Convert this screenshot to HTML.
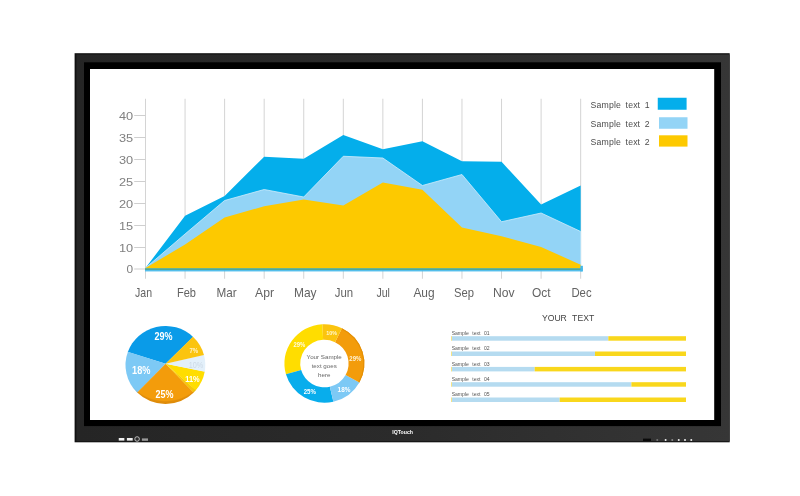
<!DOCTYPE html><html><head><meta charset="utf-8"><title>Display</title>
<style>html,body{margin:0;padding:0;background:#fff}svg{display:block}text{font-family:"Liberation Sans",sans-serif}</style></head><body>
<svg width="800" height="496" viewBox="0 0 800 496">
<rect width="800" height="496" fill="#fff"/>
<defs><linearGradient id="bz" x1="0" y1="0" x2="1" y2="0"><stop offset="0" stop-color="#252525"/><stop offset="0.5" stop-color="#2b2b2b"/><stop offset="1" stop-color="#363636"/></linearGradient><radialGradient id="pg" cx="0.5" cy="0.40" r="0.60"><stop offset="0.925" stop-color="#7a3b00" stop-opacity="0"/><stop offset="0.95" stop-color="#7a3b00" stop-opacity="0.15"/><stop offset="1" stop-color="#7a3b00" stop-opacity="0.18"/></radialGradient></defs>
<rect x="74.6" y="53.2" width="655.1" height="389.1" fill="#111"/>
<rect x="76.4" y="54.5" width="653.3" height="386.7" fill="url(#bz)"/>
<rect x="84" y="62.3" width="637" height="363.8" fill="#000"/>
<rect x="90" y="69" width="624.2" height="351" fill="#fff"/>
<line x1="145.50" y1="98.75" x2="145.50" y2="278.75" stroke="#d4d4d4" stroke-width="1"/>
<line x1="185.06" y1="98.75" x2="185.06" y2="278.75" stroke="#d4d4d4" stroke-width="1"/>
<line x1="224.62" y1="98.75" x2="224.62" y2="278.75" stroke="#d4d4d4" stroke-width="1"/>
<line x1="264.18" y1="98.75" x2="264.18" y2="278.75" stroke="#d4d4d4" stroke-width="1"/>
<line x1="303.74" y1="98.75" x2="303.74" y2="278.75" stroke="#d4d4d4" stroke-width="1"/>
<line x1="343.30" y1="98.75" x2="343.30" y2="278.75" stroke="#d4d4d4" stroke-width="1"/>
<line x1="382.86" y1="98.75" x2="382.86" y2="278.75" stroke="#d4d4d4" stroke-width="1"/>
<line x1="422.42" y1="98.75" x2="422.42" y2="278.75" stroke="#d4d4d4" stroke-width="1"/>
<line x1="461.98" y1="98.75" x2="461.98" y2="278.75" stroke="#d4d4d4" stroke-width="1"/>
<line x1="501.54" y1="98.75" x2="501.54" y2="278.75" stroke="#d4d4d4" stroke-width="1"/>
<line x1="541.10" y1="98.75" x2="541.10" y2="278.75" stroke="#d4d4d4" stroke-width="1"/>
<line x1="580.66" y1="98.75" x2="580.66" y2="278.75" stroke="#d4d4d4" stroke-width="1"/>
<line x1="134.2" y1="115.5" x2="145.5" y2="115.5" stroke="#cfcfcf" stroke-width="1"/>
<text x="118.99999999999999" y="119.7" font-size="11.2" fill="#808080" textLength="14.2" lengthAdjust="spacingAndGlyphs">40</text>
<line x1="134.2" y1="137.5" x2="145.5" y2="137.5" stroke="#cfcfcf" stroke-width="1"/>
<text x="118.99999999999999" y="141.7" font-size="11.2" fill="#808080" textLength="14.2" lengthAdjust="spacingAndGlyphs">35</text>
<line x1="134.2" y1="159.5" x2="145.5" y2="159.5" stroke="#cfcfcf" stroke-width="1"/>
<text x="118.99999999999999" y="163.7" font-size="11.2" fill="#808080" textLength="14.2" lengthAdjust="spacingAndGlyphs">30</text>
<line x1="134.2" y1="181.5" x2="145.5" y2="181.5" stroke="#cfcfcf" stroke-width="1"/>
<text x="118.99999999999999" y="185.7" font-size="11.2" fill="#808080" textLength="14.2" lengthAdjust="spacingAndGlyphs">25</text>
<line x1="134.2" y1="203.5" x2="145.5" y2="203.5" stroke="#cfcfcf" stroke-width="1"/>
<text x="118.99999999999999" y="207.7" font-size="11.2" fill="#808080" textLength="14.2" lengthAdjust="spacingAndGlyphs">20</text>
<line x1="134.2" y1="225.5" x2="145.5" y2="225.5" stroke="#cfcfcf" stroke-width="1"/>
<text x="118.99999999999999" y="229.7" font-size="11.2" fill="#808080" textLength="14.2" lengthAdjust="spacingAndGlyphs">15</text>
<line x1="134.2" y1="247.5" x2="145.5" y2="247.5" stroke="#cfcfcf" stroke-width="1"/>
<text x="118.99999999999999" y="251.7" font-size="11.2" fill="#808080" textLength="14.2" lengthAdjust="spacingAndGlyphs">10</text>
<line x1="134.2" y1="269" x2="145.5" y2="269" stroke="#cfcfcf" stroke-width="1"/>
<text x="126.6" y="273.2" font-size="11.2" fill="#808080" textLength="6.6" lengthAdjust="spacingAndGlyphs">0</text>
<polygon points="145.50,268.00 185.06,215.75 224.62,196.00 264.18,156.75 303.74,158.75 343.30,135.00 382.86,149.25 422.42,141.25 461.98,161.25 501.54,161.75 541.10,204.50 580.66,185.50 580.66,268.4 145.50,268.4" fill="#04aeeb"/>
<polygon points="145.50,268.00 185.06,234.00 224.62,200.50 264.18,189.50 303.74,197.00 343.30,156.25 382.86,158.00 422.42,185.50 461.98,174.50 501.54,221.75 541.10,213.00 580.66,231.50 580.66,268.4 145.50,268.4" fill="#93d4f6" stroke="#d0ecfb" stroke-width="0.8"/>
<polygon points="145.50,268.00 185.06,244.50 224.62,217.50 264.18,206.25 303.74,199.50 343.30,205.60 382.86,182.50 422.42,189.75 461.98,227.50 501.54,236.25 541.10,247.00 580.66,264.70 580.66,268.4 145.50,268.4" fill="#fdc900"/>
<rect x="145" y="268.2" width="437.5" height="2" fill="#4fa898"/>
<rect x="145" y="270.1" width="437.5" height="1.3" fill="#45b8ea"/>
<rect x="580.4" y="265.8" width="2.5" height="5.6" fill="#45b8ea"/>
<text x="135.00" y="296.6" font-size="12.6" fill="#636363" textLength="17.00" lengthAdjust="spacingAndGlyphs">Jan</text>
<text x="177.00" y="296.6" font-size="12.6" fill="#636363" textLength="19.00" lengthAdjust="spacingAndGlyphs">Feb</text>
<text x="216.40" y="296.6" font-size="12.6" fill="#636363" textLength="20.20" lengthAdjust="spacingAndGlyphs">Mar</text>
<text x="255.00" y="296.6" font-size="12.6" fill="#636363" textLength="19.00" lengthAdjust="spacingAndGlyphs">Apr</text>
<text x="294.00" y="296.6" font-size="12.6" fill="#636363" textLength="22.60" lengthAdjust="spacingAndGlyphs">May</text>
<text x="334.80" y="296.6" font-size="12.6" fill="#636363" textLength="18.40" lengthAdjust="spacingAndGlyphs">Jun</text>
<text x="376.40" y="296.6" font-size="12.6" fill="#636363" textLength="13.60" lengthAdjust="spacingAndGlyphs">Jul</text>
<text x="413.40" y="296.6" font-size="12.6" fill="#636363" textLength="21.20" lengthAdjust="spacingAndGlyphs">Aug</text>
<text x="454.00" y="296.6" font-size="12.6" fill="#636363" textLength="20.00" lengthAdjust="spacingAndGlyphs">Sep</text>
<text x="493.00" y="296.6" font-size="12.6" fill="#636363" textLength="21.60" lengthAdjust="spacingAndGlyphs">Nov</text>
<text x="532.00" y="296.6" font-size="12.6" fill="#636363" textLength="18.60" lengthAdjust="spacingAndGlyphs">Oct</text>
<text x="571.40" y="296.6" font-size="12.6" fill="#636363" textLength="20.20" lengthAdjust="spacingAndGlyphs">Dec</text>
<text x="590.6" y="107.9" font-size="8.7" fill="#4c4c4c" word-spacing="2" textLength="59" lengthAdjust="spacing">Sample text 1</text>
<rect x="657.75" y="97.75" width="28.85" height="12" fill="#04aeeb"/>
<text x="590.6" y="127.0" font-size="8.7" fill="#4c4c4c" word-spacing="2" textLength="59" lengthAdjust="spacing">Sample text 2</text>
<rect x="659" y="117.25" width="28.5" height="11.5" fill="#93d4f6"/>
<text x="590.6" y="145.39999999999998" font-size="8.7" fill="#4c4c4c" word-spacing="2" textLength="59" lengthAdjust="spacing">Sample text 2</text>
<rect x="659" y="135.3" width="28.5" height="11.3" fill="#fdc900"/>
<g transform="translate(0,365) scale(1,0.978) translate(0,-365)">
<path d="M165.60,363.70 L193.12,336.30 A39.9,39.9 0 0 0 127.79,351.68 Z" fill="#0a9be8"/>
<path d="M165.60,363.70 L127.91,351.35 A39.9,39.9 0 0 0 137.33,393.36 Z" fill="#7dc9f5"/>
<path d="M165.60,363.70 L137.19,393.21 A39.9,39.9 0 0 0 193.76,393.07 Z" fill="#f39c0b"/>
<path d="M165.60,363.70 L193.61,393.21 A39.9,39.9 0 0 0 195.97,390.65 Z" fill="#f6c60a"/>
<path d="M165.60,363.70 L195.74,390.91 A39.9,39.9 0 0 0 204.73,371.72 Z" fill="#ffdd00"/>
<path d="M165.60,363.70 L204.69,371.93 A39.9,39.9 0 0 0 203.89,354.47 Z" fill="#e3f0fa"/>
<path d="M165.60,363.70 L203.94,354.67 A39.9,39.9 0 0 0 192.97,336.15 Z" fill="#fbc40f"/>
<circle cx="165.4" cy="365" r="39.9" fill="url(#pg)"/>
</g>
<text x="154.40" y="339.90" font-size="10" font-weight="bold" fill="#fff" textLength="18" lengthAdjust="spacingAndGlyphs">29%</text>
<text x="132.10" y="374.20" font-size="10" font-weight="bold" fill="#fff" textLength="18.4" lengthAdjust="spacingAndGlyphs">18%</text>
<text x="155.60" y="397.70" font-size="10" font-weight="bold" fill="#fff" textLength="18" lengthAdjust="spacingAndGlyphs">25%</text>
<text x="189.45" y="353.02" font-size="7" font-weight="bold" fill="#fff3c8" textLength="8.7" lengthAdjust="spacingAndGlyphs">7%</text>
<text x="188.65" y="368.37" font-size="8.8" font-weight="normal" fill="#ccd9e6" textLength="14.5" lengthAdjust="spacingAndGlyphs">10%</text>
<text x="185.30" y="382.37" font-size="8.8" font-weight="bold" fill="#fff" textLength="14.4" lengthAdjust="spacingAndGlyphs">11%</text>
<g transform="translate(0,363.5) scale(1,0.982) translate(0,-363.5)">
<path d="M322.31,323.55 A40,40 0 0 0 285.95,374.53 L301.14,370.17 A24.2,24.2 0 0 1 323.13,339.33 Z" fill="#ffdd00"/>
<path d="M285.95,374.53 A40,40 0 0 0 333.40,402.47 L329.84,387.08 A24.2,24.2 0 0 1 301.14,370.17 Z" fill="#08adec"/>
<path d="M333.40,402.47 A40,40 0 0 0 359.38,382.89 L345.57,375.23 A24.2,24.2 0 0 1 329.84,387.08 Z" fill="#7dc9f5"/>
<path d="M359.38,382.89 A40,40 0 0 0 341.93,327.55 L335.01,341.75 A24.2,24.2 0 0 1 345.57,375.23 Z" fill="#f39c0b"/>
<path d="M341.93,327.55 A40,40 0 0 0 322.31,323.55 L323.13,339.33 A24.2,24.2 0 0 1 335.01,341.75 Z" fill="#fbc40f"/>
<path d="M359.38,382.89 A40,40 0 0 0 341.93,327.55 L341.45,328.54 A38.9,38.9 0 0 1 358.42,382.36 Z" fill="#e48f05"/>
</g>
<text x="326.25" y="335.26" font-size="6" font-weight="bold" fill="#fff6d0" textLength="10.7" lengthAdjust="spacingAndGlyphs">10%</text>
<text x="293.50" y="347.21" font-size="6.7" font-weight="bold" fill="#fffbe0" textLength="11.8" lengthAdjust="spacingAndGlyphs">29%</text>
<text x="349.30" y="361.01" font-size="6.7" font-weight="bold" fill="#fff3d8" textLength="12" lengthAdjust="spacingAndGlyphs">29%</text>
<text x="337.60" y="392.20" font-size="7.5" font-weight="bold" fill="#fff" textLength="12.8" lengthAdjust="spacingAndGlyphs">18%</text>
<text x="303.70" y="394.01" font-size="6.7" font-weight="bold" fill="#fff" textLength="12.2" lengthAdjust="spacingAndGlyphs">25%</text>
<text x="324.2" y="358.70000000000005" font-size="6.2" fill="#666" text-anchor="middle">Your Sample</text>
<text x="324.2" y="368.20000000000005" font-size="6.2" fill="#666" text-anchor="middle">text goes</text>
<text x="324.2" y="377.20000000000005" font-size="6.2" fill="#666" text-anchor="middle">here</text>
<text x="541.9" y="320.6" font-size="9.8" fill="#444" textLength="52.3" lengthAdjust="spacingAndGlyphs" word-spacing="3.4">YOUR TEXT</text>
<text x="451.65" y="334.80" font-size="5.1" fill="#555" word-spacing="2">Sample text 01</text>
<rect x="451.65" y="336.2" width="156.65" height="4.5" fill="#b5dbf0"/>
<rect x="451.1" y="336.2" width="0.9" height="4.5" fill="#f9e27a"/>
<rect x="608.3" y="336.2" width="77.70" height="4.5" fill="#f9d71c"/>
<text x="451.65" y="350.10" font-size="5.1" fill="#555" word-spacing="2">Sample text 02</text>
<rect x="451.65" y="351.5" width="143.35" height="4.5" fill="#b5dbf0"/>
<rect x="451.1" y="351.5" width="0.9" height="4.5" fill="#f9e27a"/>
<rect x="595" y="351.5" width="91.00" height="4.5" fill="#f9d71c"/>
<text x="451.65" y="365.50" font-size="5.1" fill="#555" word-spacing="2">Sample text 03</text>
<rect x="451.65" y="366.9" width="83.05" height="4.5" fill="#b5dbf0"/>
<rect x="451.1" y="366.9" width="0.9" height="4.5" fill="#f9e27a"/>
<rect x="534.7" y="366.9" width="151.30" height="4.5" fill="#f9d71c"/>
<text x="451.65" y="380.80" font-size="5.1" fill="#555" word-spacing="2">Sample text 04</text>
<rect x="451.65" y="382.2" width="179.75" height="4.5" fill="#b5dbf0"/>
<rect x="451.1" y="382.2" width="0.9" height="4.5" fill="#f9e27a"/>
<rect x="631.4" y="382.2" width="54.60" height="4.5" fill="#f9d71c"/>
<text x="451.65" y="396.10" font-size="5.1" fill="#555" word-spacing="2">Sample text 05</text>
<rect x="451.65" y="397.5" width="108.05" height="4.5" fill="#b5dbf0"/>
<rect x="451.1" y="397.5" width="0.9" height="4.5" fill="#f9e27a"/>
<rect x="559.7" y="397.5" width="126.30" height="4.5" fill="#f9d71c"/>
<rect x="118.75" y="438" width="5.6" height="2.6" fill="#eee"/>
<rect x="126.9" y="438" width="5.8" height="2.6" fill="#eee"/>
<circle cx="137.1" cy="439" r="2.3" fill="#2d2d2d" stroke="#ddd" stroke-width="0.8"/>
<rect x="141.9" y="438.4" width="6.1" height="2.4" fill="#999"/>
<text x="392.3" y="433.5" font-size="5.6" font-weight="bold" fill="#fff" textLength="20.7" lengthAdjust="spacingAndGlyphs" font-family="Liberation Serif, serif">IQTouch</text>
<rect x="643" y="438.6" width="8" height="2.4" fill="#0a0a0a"/>
<circle cx="657.25" cy="440" r="1" fill="#777"/>
<circle cx="665.6" cy="440" r="1" fill="#eee"/>
<circle cx="672.25" cy="440" r="1" fill="#888"/>
<circle cx="678.75" cy="440" r="1" fill="#eee"/>
<circle cx="685" cy="440" r="1" fill="#eee"/>
<circle cx="691.25" cy="440" r="1" fill="#eee"/>
</svg></body></html>
